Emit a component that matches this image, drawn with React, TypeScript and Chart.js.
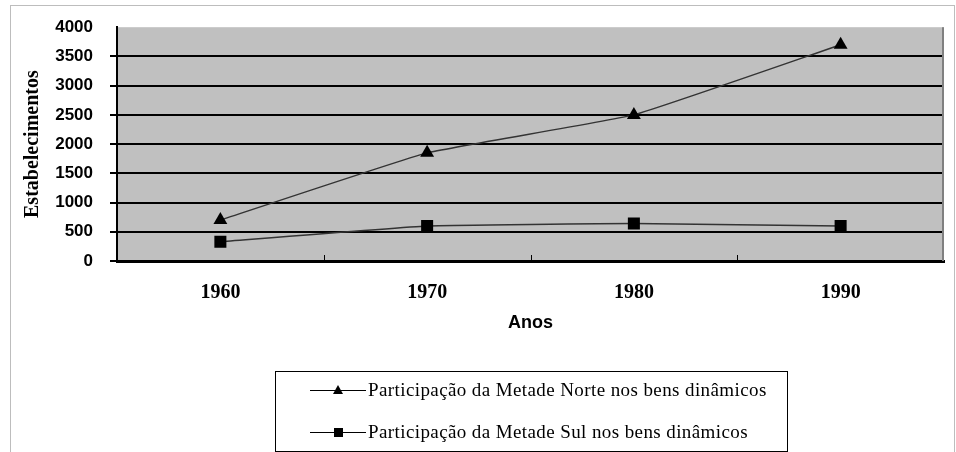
import React, { useEffect, useRef } from "react";
import { Chart, registerables } from "chart.js";

Chart.register(...registerables);

const categories = ["1960", "1970", "1980", "1990"];
const norteValues = [700, 1850, 2500, 3700];
const sulValues = [330, 600, 640, 600];
const yTickValues = [0, 500, 1000, 1500, 2000, 2500, 3000, 3500, 4000];
const norteLabel = "Participação da Metade Norte nos bens dinâmicos";
const sulLabel = "Participação da Metade Sul nos bens dinâmicos";
const xTitle = "Anos";
const yTitle = "Estabelecimentos";

const decorPlugin = {
  id: "decor",
  beforeDraw(chart: any) {
    const { ctx, chartArea } = chart;
    ctx.save();
    ctx.fillStyle = "#ffffff";
    ctx.fillRect(0, 0, chart.width, chart.height);
    ctx.strokeStyle = "#bdbdbd";
    ctx.lineWidth = 1;
    ctx.strokeRect(10.5, 5.5, 944, 470);
    ctx.fillStyle = "#c0c0c0";
    ctx.fillRect(chartArea.left, chartArea.top, chartArea.right - chartArea.left, chartArea.bottom - chartArea.top);
    ctx.restore();
  },
  beforeDatasetsDraw(chart: any) {
    const { ctx, chartArea } = chart;
    const xs = chart.scales.x;
    ctx.save();
    ctx.strokeStyle = "#808080";
    ctx.lineWidth = 2;
    ctx.beginPath();
    ctx.moveTo(chartArea.right - 1, chartArea.top);
    ctx.lineTo(chartArea.right - 1, chartArea.bottom);
    ctx.stroke();
    ctx.strokeStyle = "#000000";
    ctx.lineWidth = 1;
    for (let i = 0; i < categories.length - 1; i++) {
      const px = Math.round(xs.getPixelForValue(i + 0.5)) + 0.5;
      ctx.beginPath();
      ctx.moveTo(px, chartArea.bottom - 6);
      ctx.lineTo(px, chartArea.bottom);
      ctx.stroke();
    }
    ctx.restore();
  },
  afterDraw(chart: any) {
    const { ctx } = chart;
    ctx.save();
    const boxL = 275, boxT = 371, boxW = 512, boxH = 80;
    ctx.strokeStyle = "#000000";
    ctx.lineWidth = 1;
    ctx.strokeRect(boxL + 0.5, boxT + 0.5, boxW, boxH);
    const rows = [390, 432];
    chart.data.datasets.forEach((ds: any, i: number) => {
      const y = rows[i];
      ctx.strokeStyle = "#000000";
      ctx.lineWidth = 1;
      ctx.beginPath();
      ctx.moveTo(310, y + 0.5);
      ctx.lineTo(366, y + 0.5);
      ctx.stroke();
      ctx.fillStyle = "#000000";
      if (ds.pointStyle === "triangle") {
        ctx.beginPath();
        ctx.moveTo(338, y - 5);
        ctx.lineTo(343, y + 4);
        ctx.lineTo(333, y + 4);
        ctx.closePath();
        ctx.fill();
      } else {
        ctx.fillRect(334, y - 4, 9, 9);
      }
      ctx.font = "19px 'Liberation Serif'";
      (ctx as any).letterSpacing = "0.4px";
      ctx.textAlign = "left";
      ctx.textBaseline = "middle";
      ctx.fillText(ds.label, 368, y + 1);
    });
    ctx.restore();
  },
};

export default function App() {
  const ref = useRef<HTMLCanvasElement | null>(null);
  useEffect(() => {
    if (!ref.current) return;
    const chart = new Chart(ref.current, {
      type: "line",
      data: {
        labels: categories,
        datasets: [
          {
            label: norteLabel,
            data: norteValues,
            borderColor: "#333333",
            borderWidth: 1.5,
            tension: 0.1,
            pointStyle: "triangle",
            pointRadius: 8,
            pointBackgroundColor: "#000000",
            pointBorderColor: "#000000",
            pointBorderWidth: 0,
          },
          {
            label: sulLabel,
            data: sulValues,
            borderColor: "#333333",
            borderWidth: 1.5,
            tension: 0.1,
            pointStyle: "rect",
            pointRadius: 8.5,
            pointBackgroundColor: "#000000",
            pointBorderColor: "#000000",
            pointBorderWidth: 0,
          },
        ],
      },
      options: {
        animation: false,
        responsive: false,
        layout: { padding: { left: 17, top: 27, right: 12, bottom: 114 } },
        plugins: { legend: { display: false }, tooltip: { enabled: false } },
        scales: {
          x: {
            offset: true,
            grid: { display: false, drawTicks: false },
            border: { color: "#000000", width: 3 },
            ticks: {
              color: "#000000",
              padding: 20,
              font: { family: "'Liberation Serif'", size: 20, weight: "bold" },
            },
            title: {
              display: true,
              text: xTitle,
              color: "#000000",
              font: { family: "'Liberation Sans'", size: 18, weight: "bold" },
            },
            afterFit: (s: any) => {
              s.height = 77;
            },
          },
          y: {
            min: 0,
            max: 4000,
            afterBuildTicks: (s: any) => {
              s.ticks = yTickValues.map((v) => ({ value: v }));
            },
            grid: {
              color: (c: any) => (c.tick && c.tick.value === 4000 ? "rgba(0,0,0,0)" : "#000000"),
              lineWidth: 2,
              drawTicks: true,
              tickLength: 7,
            },
            border: { color: "#000000", width: 2 },
            ticks: {
              color: "#000000",
              padding: 17,
              font: { family: "'Liberation Sans'", size: 17, weight: "bold" },
              callback: (v: any) => String(v),
            },
            title: {
              display: true,
              text: yTitle,
              color: "#000000",
              font: { family: "'Liberation Serif'", size: 20, weight: "bold" },
            },
            afterFit: (s: any) => {
              s.width = 100;
            },
          },
        },
      },
      plugins: [decorPlugin],
    } as any);
    return () => chart.destroy();
  }, []);
  return (
    <div style={{ position: "fixed", left: 0, top: 0, width: 956, height: 452 }}>
      <canvas ref={ref} width={956} height={452} style={{ width: 956, height: 452, display: "block" }} />
    </div>
  );
}
